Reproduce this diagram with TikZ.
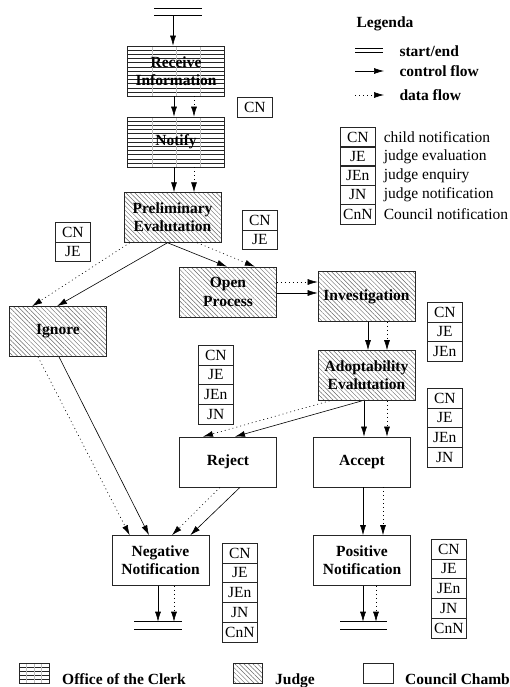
\documentclass[tikz,border=0pt]{standalone}
\usepackage{fontspec}
\setmainfont{Liberation Serif}
\usetikzlibrary{arrows.meta,patterns.meta,calc}

\newcommand{\diagfont}{\fontsize{15.5}{18.3}\selectfont}
\newcommand{\tagstack}[4]{%
  \foreach \lbl [count=\k] in {#4}
    {\node[tagbox] (#1-\k) at (#2,{#3+(\k-1)*19.7}) {\lbl};}}

\tikzset{
  box/.style={draw=black!85, line width=0.7pt, minimum width=97, minimum height=50,
    align=center, font=\diagfont\bfseries, inner sep=1pt},
  clerk/.style={box, path picture={
    \foreach \k in {1,...,11}
      \draw[line width=0.8pt] ([yshift={-\k*4.2pt}]path picture bounding box.north west)
        -- ([yshift={-\k*4.2pt}]path picture bounding box.north east);
    \foreach \f in {0.25,0.5,0.75}
      \draw[gray!50, line width=0.3pt]
        ($(path picture bounding box.north west)!\f!(path picture bounding box.north east)$)
        -- ($(path picture bounding box.south west)!\f!(path picture bounding box.south east)$);
  }},
  judge/.style={box, pattern={Lines[angle=-45,distance=3.2pt,line width=0.45pt]},
    pattern color=black!60},
  council/.style={box},
  tagbox/.style={draw=black!85, line width=0.6pt, minimum width=35, minimum height=19.7,
    inner sep=0pt, anchor=north west, font=\diagfont},
  ctrl/.style={-{Latex[length=10pt,width=6pt]}, line width=0.6pt},
  data/.style={ctrl, dash pattern=on 1pt off 3pt},
  bar/.style={line width=0.8pt}
}

\begin{document}
\begin{tikzpicture}[x=1pt,y=-1pt]
\useasboundingbox (0,0) rectangle (510,687);

% process steps
\node[clerk] (recv) at (176,71) {Receive\\Information};
\node[clerk] (notify) at (176,142) {Notify};
\node[judge] (prelim) at (172.5,217.5) {Preliminary\\Evalutation};
\node[judge] (ignore) at (58,331.5) {Ignore};
\node[judge] (open) at (228,292) {Open\\Process};
\node[judge] (invest) at (366.5,296.5) {Investigation};
\node[judge] (adopt) at (366.5,375.5) {Adoptability\\Evalutation};
\node[council] (reject) at (228,462) {Reject};
\node[council] (accept) at (362,462) {Accept};
\node[council] (neg) at (160.5,560.5) {Negative\\Notification};
\node[council] (pos) at (362,560.5) {Positive\\Notification};

% start and end
\coordinate (start) at (178,15.7);
\coordinate (endL) at (158,621.7);
\coordinate (endR) at (363.5,621.7);
\draw[bar] ([yshift=7.5]start) ++(-24,0) -- ++(48,0);
\draw[bar] (start) ++(-24,0) -- ++(48,0);
\draw[bar] (endL) ++(-24,0) -- ++(48,0);
\draw[bar] ([yshift=-7.6]endL) ++(-24,0) -- ++(48,0);
\draw[bar] (endR) ++(-23.5,0) -- ++(47,0);
\draw[bar] ([yshift=-7.6]endR) ++(-23.5,0) -- ++(47,0);

% documents
\tagstack{t0}{237}{97}{CN}
\tagstack{t1}{55}{222}{CN,JE}
\tagstack{t2}{242}{210}{CN,JE}
\tagstack{t3}{427}{302}{CN,JE,JEn}
\tagstack{t4}{198}{345}{CN,JE,JEn,JN}
\tagstack{t5}{427}{388}{CN,JE,JEn,JN}
\tagstack{t6}{222}{543}{CN,JE,JEn,JN,CnN}
\tagstack{t7}{431}{539}{CN,JE,JEn,JN,CnN}

% flows
\draw[ctrl] ([xshift=-5]start) -- ([xshift=-5]start |- recv.north);
\draw[ctrl] ([xshift=-2]recv.south) -- ([xshift=-2]notify.north);
\draw[data] ([xshift=18]recv.south) -- ([xshift=18]notify.north);
\draw[ctrl] ([xshift=-2]notify.south) -- ([xshift=-2]notify.south |- prelim.north);
\draw[data] ([xshift=18]notify.south) -- ([xshift=18]notify.south |- prelim.north);
\draw[ctrl] ([xshift=-5]prelim.south) -- ([xshift=-1]ignore.north);
\draw[data] ([xshift=6]prelim.south west) -- ([xshift=23]ignore.north west);
\draw[ctrl] ([xshift=-5]prelim.south) -- ([xshift=-1]open.north);
\draw[data] ([xshift=-24]prelim.south east) -- ([xshift=-22]open.north east);
\draw[ctrl] ([yshift=-1]open.east) -- ([yshift=-1]open.east -| invest.west);
\draw[data] ([yshift=10]open.east) -- ([yshift=10]open.east -| invest.west);
\draw[ctrl] ([xshift=1.5]invest.south) -- ([xshift=1.5]adopt.north);
\draw[data] ([xshift=20.5]invest.south) -- ([xshift=20.5]adopt.north);
\draw[ctrl] ([xshift=-4.5]adopt.south) -- ([xshift=7]reject.north);
\draw[data] ([xshift=12]adopt.south west) -- ([xshift=-25]reject.north);
\draw[ctrl] ([xshift=-2.5]adopt.south) -- ([xshift=-2.5]adopt.south |- accept.north);
\draw[data] ([xshift=20.5]adopt.south) -- ([xshift=20.5]adopt.south |- accept.north);
\draw[ctrl] ([xshift=1]ignore.south) -- ([xshift=-11.5]neg.north);
\draw[data] ([xshift=-20]ignore.south) -- ([xshift=18]neg.north west);
\draw[ctrl] ([xshift=12]reject.south) -- ([xshift=-19]neg.north east);
\draw[data] ([xshift=-8]reject.south) -- ([xshift=11.5]neg.north);
\draw[ctrl] ([xshift=1]accept.south) -- ([xshift=1]pos.north);
\draw[data] ([xshift=21]accept.south) -- ([xshift=21]pos.north);
\draw[ctrl] ([xshift=-2.5]neg.south) -- ([xshift=-2.5]neg.south |- endL);
\draw[data] ([xshift=13.5]neg.south) -- ([xshift=13.5]neg.south |- endL);
\draw[ctrl] ([xshift=1]pos.south) -- ([xshift=1]pos.south |- endR);
\draw[data] ([xshift=14]pos.south) -- ([xshift=14]pos.south |- endR);

% legend
\node[anchor=west, font=\diagfont\bfseries] (legtitle) at (353,24) {Legenda};
\draw[bar] (355,48.5) -- (383,48.5);
\draw[bar] (355,52.5) -- (383,52.5);
\coordinate (la) at (355,71);
\coordinate (lb) at (384,71);
\coordinate (lc) at (355,95);
\coordinate (ld) at (384,95);
\draw[ctrl] (la) -- (lb);
\draw[data] (lc) -- (ld);
\node[anchor=west, font=\diagfont\bfseries] at (396,51) {start/end};
\node[anchor=west, font=\diagfont\bfseries] at (396,71) {control flow};
\node[anchor=west, font=\diagfont\bfseries] at (396,95) {data flow};
\foreach \lbl/\desc [count=\k] in {CN/child notification, JE/judge evaluation,
    JEn/judge enquiry, JN/judge notification, CnN/Council notification}
  {\node[tagbox] (leg-\k) at (340,{127+(\k-1)*19.2}) {\lbl};
   \node[anchor=west, font=\diagfont, inner sep=0pt] at ([xshift=8]leg-\k.east) {\desc};}

% departments
\node[clerk, minimum width=30, minimum height=20] (icoclerk) at (34,673) {};
\node[judge, minimum width=29, minimum height=20] (icojudge) at (247.5,673) {};
\node[council, minimum width=30, minimum height=20] (icocouncil) at (378,673) {};
\node[anchor=base west, font=\diagfont\bfseries, inner sep=0pt] at (62,684) {Office of the Clerk};
\node[anchor=base west, font=\diagfont\bfseries, inner sep=0pt] at (275,684) {Judge};
\node[anchor=base west, font=\diagfont\bfseries, inner sep=0pt] at (405,684) {Council Chamber};

\end{tikzpicture}
\end{document}
